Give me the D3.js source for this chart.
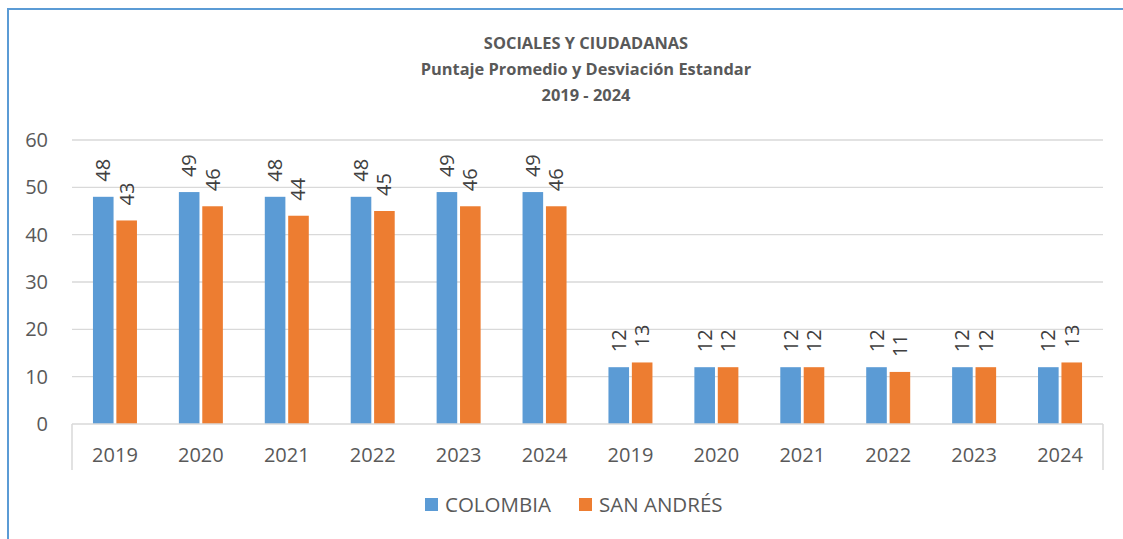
<!DOCTYPE html>
<html>
<head>
<meta charset="utf-8">
<script src="https://cdn.jsdelivr.net/npm/d3@7.9.0/dist/d3.min.js"></script>
<style>
  body { margin: 0; background: #fff; }
  svg text { font-family: "Open Sans", "Noto Sans", sans-serif; }
</style>
</head>
<body>
<svg id="chart" width="1123" height="539"></svg>
<script>
const years = ['2019', '2020', '2021', '2022', '2023', '2024', '2019', '2020', '2021', '2022', '2023', '2024'];
const colombia = [48, 49, 48, 48, 49, 49, 12, 12, 12, 12, 12, 12];
const sanAndres = [43, 46, 44, 45, 46, 46, 13, 12, 12, 11, 12, 13];
const seriesNames = ['COLOMBIA', 'SAN ANDRÉS'];
const yTicks = [0, 10, 20, 30, 40, 50, 60];
const titleLines = ['SOCIALES Y CIUDADANAS', 'Puntaje Promedio y Desviación Estandar', '2019 - 2024'];

const colors = ['#5b9bd5', '#ed7d31'];
const svg = d3.select('#chart');

// outer frame (only left and top visible in the crop)
svg.append('rect')
  .attr('x', 8).attr('y', 9)
  .attr('width', 1140).attr('height', 560)
  .attr('fill', 'none')
  .attr('stroke', '#5b9bd5')
  .attr('stroke-width', 2);

const margin = { left: 72, right: 1103, top: 140, bottom: 424 };

let x = d3.scaleBand()
  .domain(d3.range(years.length))
  .range([margin.left, margin.right]);

let xInner = d3.scaleBand()
  .domain([0, 1])
  .range([0, 44])
  .paddingInner(0.12);

let y = d3.scaleLinear().domain([0, 60]).range([margin.bottom, margin.top]);

// gridlines
svg.append('g')
  .selectAll('line')
  .data(yTicks.filter((t) => t > 0))
  .join('line')
  .attr('x1', margin.left).attr('x2', margin.right)
  .attr('y1', (d) => y(d)).attr('y2', (d) => y(d))
  .attr('stroke', '#d9d9d9').attr('stroke-width', 1.3);

// y labels
svg.append('g')
  .selectAll('text')
  .data(yTicks)
  .join('text')
  .attr('x', 48)
  .attr('y', (d) => y(d))
  .attr('dy', '0.35em')
  .attr('text-anchor', 'end')
  .attr('font-size', 20)
  .attr('fill', '#595959')
  .text((d) => d);

// bars
let series = [colombia, sanAndres];
series.forEach((vals, s) => {
  let g = svg.append('g');
  vals.forEach((v, i) => {
    let bx = x(i) + (x.bandwidth() - 44) / 2 + xInner(s);
    g.append('rect')
      .attr('x', bx)
      .attr('y', y(v))
      .attr('width', xInner.bandwidth())
      .attr('height', y(0) - y(v))
      .attr('fill', colors[s]);

    let cx = bx + xInner.bandwidth() / 2;
    g.append('text')
      .attr('transform', `translate(${cx + 7},${y(v) - 15}) rotate(-90)`)
      .attr('font-size', 20)
      .attr('fill', '#404040')
      .text(v);
  });
});

// x axis line and outer ticks
svg.append('line')
  .attr('x1', margin.left).attr('x2', margin.right)
  .attr('y1', margin.bottom).attr('y2', margin.bottom)
  .attr('stroke', '#d9d9d9').attr('stroke-width', 1.5);
[margin.left, margin.right].forEach((px) => {
  svg.append('line')
    .attr('x1', px).attr('x2', px)
    .attr('y1', margin.bottom).attr('y2', 470)
    .attr('stroke', '#d9d9d9').attr('stroke-width', 1.5);
});

svg.append('g')
  .selectAll('text')
  .data(years)
  .join('text')
  .attr('x', (d, i) => x(i) + x.bandwidth() / 2)
  .attr('y', 455)
  .attr('dy', '0.35em')
  .attr('text-anchor', 'middle')
  .attr('font-size', 20)
  .attr('fill', '#595959')
  .text((d) => d);

// title
svg.append('g')
  .selectAll('text')
  .data(titleLines)
  .join('text')
  .attr('x', 586)
  .attr('y', (d, i) => 43 + i * 26)
  .attr('dy', '0.35em')
  .attr('text-anchor', 'middle')
  .attr('font-size', 16.4)
  .attr('font-weight', 'bold')
  .attr('fill', '#595959')
  .text((d) => d);

// legend
let legendX = [425, 579];
seriesNames.forEach((name, i) => {
  svg.append('rect')
    .attr('x', legendX[i]).attr('y', 498)
    .attr('width', 13).attr('height', 13)
    .attr('fill', colors[i]);
  svg.append('text')
    .attr('x', legendX[i] + 20).attr('y', 505)
    .attr('dy', '0.35em')
    .attr('font-size', 20.5)
    .attr('fill', '#595959')
    .text(name);
});
</script>
</body>
</html>
